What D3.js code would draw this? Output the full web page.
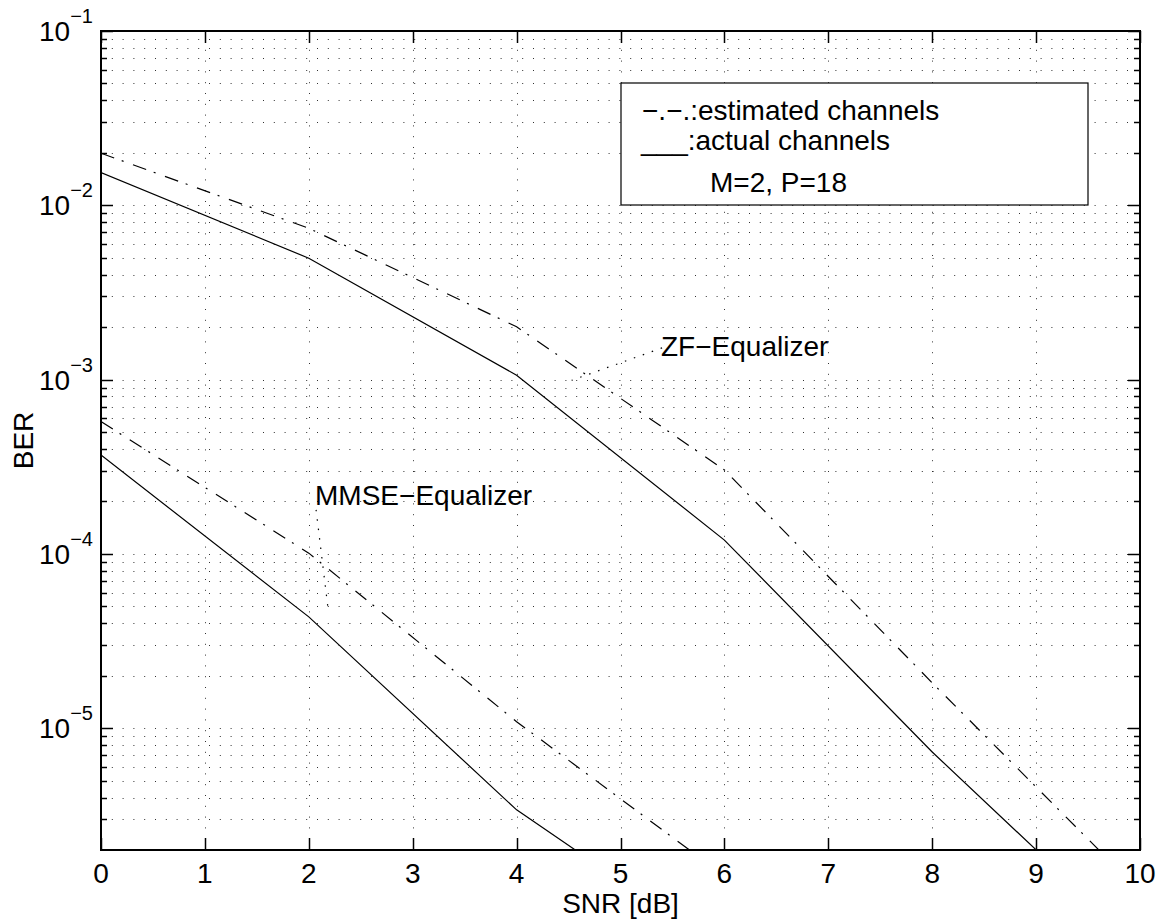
<!DOCTYPE html>
<html>
<head>
<meta charset="utf-8">
<script src="https://cdn.jsdelivr.net/npm/d3@7"></script>
<style>
    body { margin: 0; background: #fff; }
    text { font-family: "Liberation Sans", Arial, Helvetica, sans-serif; fill: #000; }
</style>
</head>
<body>
<div id="chart"></div>
<script>
    // BER curves (SNR in dB)
    var snr = [0, 2, 4, 6, 8, 10];
    var zfActual = [0.0154, 0.00497, 0.00106, 0.000120, 0.0000073, 0.00000055];
    var zfEstimated = [0.0199, 0.00738, 0.00201, 0.000303, 0.0000182, 0.00000116];
    var mmseSnr = [0, 2, 4, 6];
    var mmseActual = [0.000369, 0.0000435, 0.0000034, 0.00000052];
    var mmseEstimated = [0.000574, 0.000101, 0.0000109, 0.00000142];

    var xTicks = [0, 1, 2, 3, 4, 5, 6, 7, 8, 9, 10];
    var yDecades = [1e-5, 1e-4, 1e-3, 1e-2, 1e-1];
    var yExponents = ["−5", "−4", "−3", "−2", "−1"];

    var legendLines = ["−.−.:estimated channels", "___:actual channels", "M=2, P=18"];
    var zfLabel = "ZF−Equalizer";
    var mmseLabel = "MMSE−Equalizer";
    // annotation pointers, [snr, ber]
    var zfPointer = [[5.4, 0.00152], [4.53, 0.00099]];
    var mmsePointer = [[2.07, 0.000179], [2.19, 0.000046]];

    var W = 1166, H = 922;
    var margin = {left: 101, top: 31, right: 26, bottom: 72};
    var fs = 28;

    var svg = d3.select("#chart").append("svg")
        .attr("width", W).attr("height", H);

    var x = d3.scaleLinear().domain([0, 10]).range([margin.left, W - margin.right]);
    var y = d3.scaleLog().domain([2e-6, 0.1]).range([H - margin.bottom, margin.top]);

    var x0 = x.range()[0], x1 = x.range()[1];
    var y0 = y.range()[0], y1 = y.range()[1];

    svg.append("defs").append("clipPath").attr("id", "plotclip")
        .append("rect").attr("x", x0).attr("y", y1).attr("width", x1 - x0).attr("height", y0 - y1);

    // dotted grid
    var allY = y.ticks().filter(function(d){ return d > 2.01e-6 && d < 0.099; });
    var grid = svg.append("g").attr("stroke", "#000").attr("stroke-width", 1)
        .attr("stroke-dasharray", "1,9.8").attr("opacity", 0.8);
    grid.selectAll(".gy").data(allY).enter().append("line")
        .attr("x1", x0).attr("x2", x1)
        .attr("y1", function(d){ return Math.round(y(d)) + 0.5; })
        .attr("y2", function(d){ return Math.round(y(d)) + 0.5; });
    grid.selectAll(".gx").data(xTicks.slice(1, -1)).enter().append("line")
        .attr("y1", y0).attr("y2", y1)
        .attr("x1", function(d){ return Math.round(x(d)) + 0.5; })
        .attr("x2", function(d){ return Math.round(x(d)) + 0.5; });

    // curves
    var line = d3.line()
        .x(function(d){ return x(d[0]); })
        .y(function(d){ return y(d[1]); });

    var curves = [
        {xs: snr, ys: zfActual, dash: null},
        {xs: snr, ys: zfEstimated, dash: "14,8,2,10"},
        {xs: mmseSnr, ys: mmseActual, dash: null},
        {xs: mmseSnr, ys: mmseEstimated, dash: "14,8,2,10"}
    ];
    var plot = svg.append("g").attr("clip-path", "url(#plotclip)");
    curves.forEach(function(c){
        var pts = c.xs.map(function(v, i){ return [v, c.ys[i]]; });
        plot.append("path").datum(pts)
            .attr("d", line)
            .attr("fill", "none")
            .attr("stroke", "#000")
            .attr("stroke-width", 1.2)
            .attr("stroke-dasharray", c.dash);
    });

    // pointers from the labels
    [zfPointer, mmsePointer].forEach(function(p){
        plot.append("path").datum(p)
            .attr("d", line)
            .attr("fill", "none")
            .attr("stroke", "#000")
            .attr("stroke-width", 1.2)
            .attr("stroke-dasharray", "1.5,8");
    });

    // frame
    svg.append("rect")
        .attr("x", x0).attr("y", y1).attr("width", x1 - x0).attr("height", y0 - y1)
        .attr("fill", "none").attr("stroke", "#000").attr("stroke-width", 2);

    // ticks (inward, both sides)
    var ticks = svg.append("g").attr("stroke", "#000").attr("stroke-width", 1.5);
    allY.concat([0.1]).forEach(function(d){
        var major = yDecades.indexOf(d) >= 0;
        var len = major ? 12 : 6;
        var yy = Math.round(y(d)) + 0.5;
        ticks.append("line").attr("x1", x0).attr("x2", x0 + len).attr("y1", yy).attr("y2", yy);
        ticks.append("line").attr("x1", x1).attr("x2", x1 - len).attr("y1", yy).attr("y2", yy);
    });
    xTicks.forEach(function(d){
        var xx = Math.round(x(d)) + 0.5;
        ticks.append("line").attr("x1", xx).attr("x2", xx).attr("y1", y0).attr("y2", y0 - 12);
        ticks.append("line").attr("x1", xx).attr("x2", xx).attr("y1", y1).attr("y2", y1 + 12);
    });

    // tick labels
    svg.selectAll(".xl").data(xTicks).enter().append("text")
        .attr("x", function(d){ return x(d); })
        .attr("y", y0 + 33)
        .attr("text-anchor", "middle")
        .attr("font-size", fs)
        .text(function(d){ return d; });

    yDecades.forEach(function(d, i){
        var t = svg.append("text")
            .attr("x", x0 - 8)
            .attr("y", y(d) + 10)
            .attr("text-anchor", "end")
            .attr("font-size", fs);
        t.append("tspan").text("10");
        t.append("tspan").attr("font-size", 20).attr("dy", -18).text(yExponents[i]);
    });

    // axis titles
    svg.append("text")
        .attr("x", (x0 + x1) / 2).attr("y", H - 9)
        .attr("text-anchor", "middle").attr("font-size", fs)
        .text("SNR [dB]");
    svg.append("text")
        .attr("transform", "translate(33," + ((y0 + y1) / 2) + ") rotate(-90)")
        .attr("text-anchor", "middle").attr("font-size", fs)
        .text("BER");

    // curve labels
    svg.append("text")
        .attr("x", x(5.39)).attr("y", y(0.00136))
        .attr("font-size", fs).text(zfLabel);
    svg.append("text")
        .attr("x", x(2.06)).attr("y", y(0.00019))
        .attr("font-size", fs).text(mmseLabel);

    // legend box
    var lg = svg.append("g").attr("transform", "translate(621,83)");
    lg.append("rect").attr("width", 467).attr("height", 122)
        .attr("fill", "#fff").attr("stroke", "#000").attr("stroke-width", 1.2);
    lg.append("text").attr("x", 21).attr("y", 37).attr("font-size", fs).text(legendLines[0]);
    lg.append("text").attr("x", 20).attr("y", 67).attr("font-size", fs).text(legendLines[1]);
    lg.append("text").attr("x", 89).attr("y", 109).attr("font-size", fs).text(legendLines[2]);
</script>
</body>
</html>
